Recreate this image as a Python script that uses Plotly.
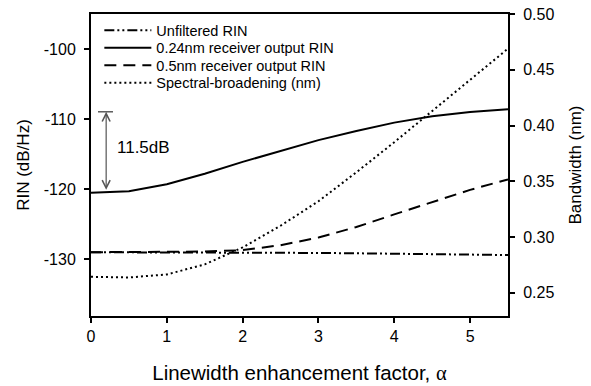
import plotly.graph_objects as go

alpha = [0, 0.5, 1, 1.5, 2, 2.5, 3, 3.5, 4, 4.5, 5, 5.5]
rin_unfiltered = [-129.0, -129.0, -129.0, -129.0, -129.0, -129.05, -129.1, -129.15, -129.2, -129.3, -129.35, -129.4]
rin_024nm = [-120.5, -120.3, -119.3, -117.8, -116.1, -114.5, -113.0, -111.7, -110.5, -109.6, -109.0, -108.6]
rin_05nm = [-129.0, -129.0, -129.0, -128.9, -128.7, -128.0, -126.9, -125.4, -123.6, -121.8, -120.1, -118.6]
bandwidth_nm = [0.2642, 0.2636, 0.2663, 0.2753, 0.2906, 0.310, 0.332, 0.358, 0.385, 0.413, 0.441, 0.469]

names = ["Unfiltered RIN", "0.24nm receiver output RIN", "0.5nm receiver output RIN", "Spectral-broadening (nm)"]

x_ticks = [0, 1, 2, 3, 4, 5]
rin_ticks = [-100, -110, -120, -130]
rin_tick_labels = ["-100", "-110", "-120", "-130"]
bw_ticks = [0.25, 0.30, 0.35, 0.40, 0.45, 0.50]

FONT = "Liberation Sans, Arial, sans-serif"
fig = go.Figure()
fig.add_trace(go.Scatter(x=alpha, y=rin_unfiltered, mode="lines", name=names[0], legend="legend",
                         line=dict(color="black", width=2, dash="10px,3px,2px,3px,2px,3px")))
fig.add_trace(go.Scatter(x=alpha, y=rin_024nm, mode="lines", name=names[1], legend="legend2",
                         line=dict(color="black", width=2)))
fig.add_trace(go.Scatter(x=alpha, y=rin_05nm, mode="lines", name=names[2], legend="legend3",
                         line=dict(color="black", width=2, dash="12px,7px")))
fig.add_trace(go.Scatter(x=alpha, y=bandwidth_nm, mode="lines", name=names[3], yaxis="y2", legend="legend4",
                         line=dict(color="black", width=2, dash="2px,3px")))

# 11.5 dB annotation
top_val = -108.96
bot_val = -120.3
xa = 0.20
fig.add_annotation(x=xa, y=top_val, ax=xa, ay=bot_val, axref="x", ayref="y", xref="x", yref="y",
                   text="", showarrow=True, arrowside="end+start", arrowhead=5, startarrowhead=5,
                   arrowsize=1.3, startarrowsize=1.3, arrowwidth=1.2, arrowcolor="#555555")
fig.add_shape(type="line", xref="x", yref="y", x0=0.092, x1=0.29, y0=top_val, y1=top_val,
              line=dict(color="#333333", width=1.2))
fig.add_annotation(x=0.31, y=(top_val + bot_val) / 2 + 0.6, xref="x", yref="y", text="11.5dB",
                   showarrow=False, xanchor="left", font=dict(size=17, color="black", family=FONT))

axis_common = dict(showline=True, linecolor="black", linewidth=2, ticks="outside", ticklen=5,
                   tickwidth=1.5, tickcolor="black", showgrid=False, zeroline=False,
                   ticklabeloverflow="allow", automargin=False,
                   tickfont=dict(size=16, color="black", family=FONT))

leg_common = dict(xanchor="left", yanchor="middle", bgcolor="rgba(0,0,0,0)",
                  font=dict(size=14.5, family=FONT, color="black"), itemwidth=47)
row_px = [30.2, 47.8, 65.2, 82.8]
leg_y = [(316 - r) / 302 for r in row_px]
leg_x = 0.02

fig.update_layout(
    width=591, height=386,
    margin=dict(l=91, r=83, t=14, b=70, autoexpand=False),
    paper_bgcolor="white", plot_bgcolor="white",
    font=dict(family=FONT, color="black"),
    xaxis=dict(range=[0, 5.5], tickvals=x_ticks, mirror=True,
               title=dict(text="Linewidth enhancement factor, <span style='font-family:Liberation Serif'>α</span>",
                          font=dict(size=20.5, family=FONT), standoff=21),
               **axis_common),
    yaxis=dict(range=[-138.1, -95], tickvals=rin_ticks, ticktext=rin_tick_labels, ticklabelstandoff=5,
               title=dict(text="RIN (dB/Hz)", font=dict(size=17, family=FONT), standoff=10),
               **axis_common),
    yaxis2=dict(range=[0.229, 0.5001], overlaying="y", side="right", tickvals=bw_ticks,
                tickformat=".2f", ticklabelstandoff=5,
                title=dict(text="Bandwidth (nm)", font=dict(size=17, family=FONT), standoff=16),
                **axis_common),
    legend=dict(x=leg_x, y=leg_y[0], **leg_common),
    legend2=dict(x=leg_x, y=leg_y[1], **leg_common),
    legend3=dict(x=leg_x, y=leg_y[2], **leg_common),
    legend4=dict(x=leg_x, y=leg_y[3], **leg_common),
    showlegend=True,
)

fig.write_html("out.html", config={"displayModeBar": False},
               post_script="document.body.style.margin='0px';")
